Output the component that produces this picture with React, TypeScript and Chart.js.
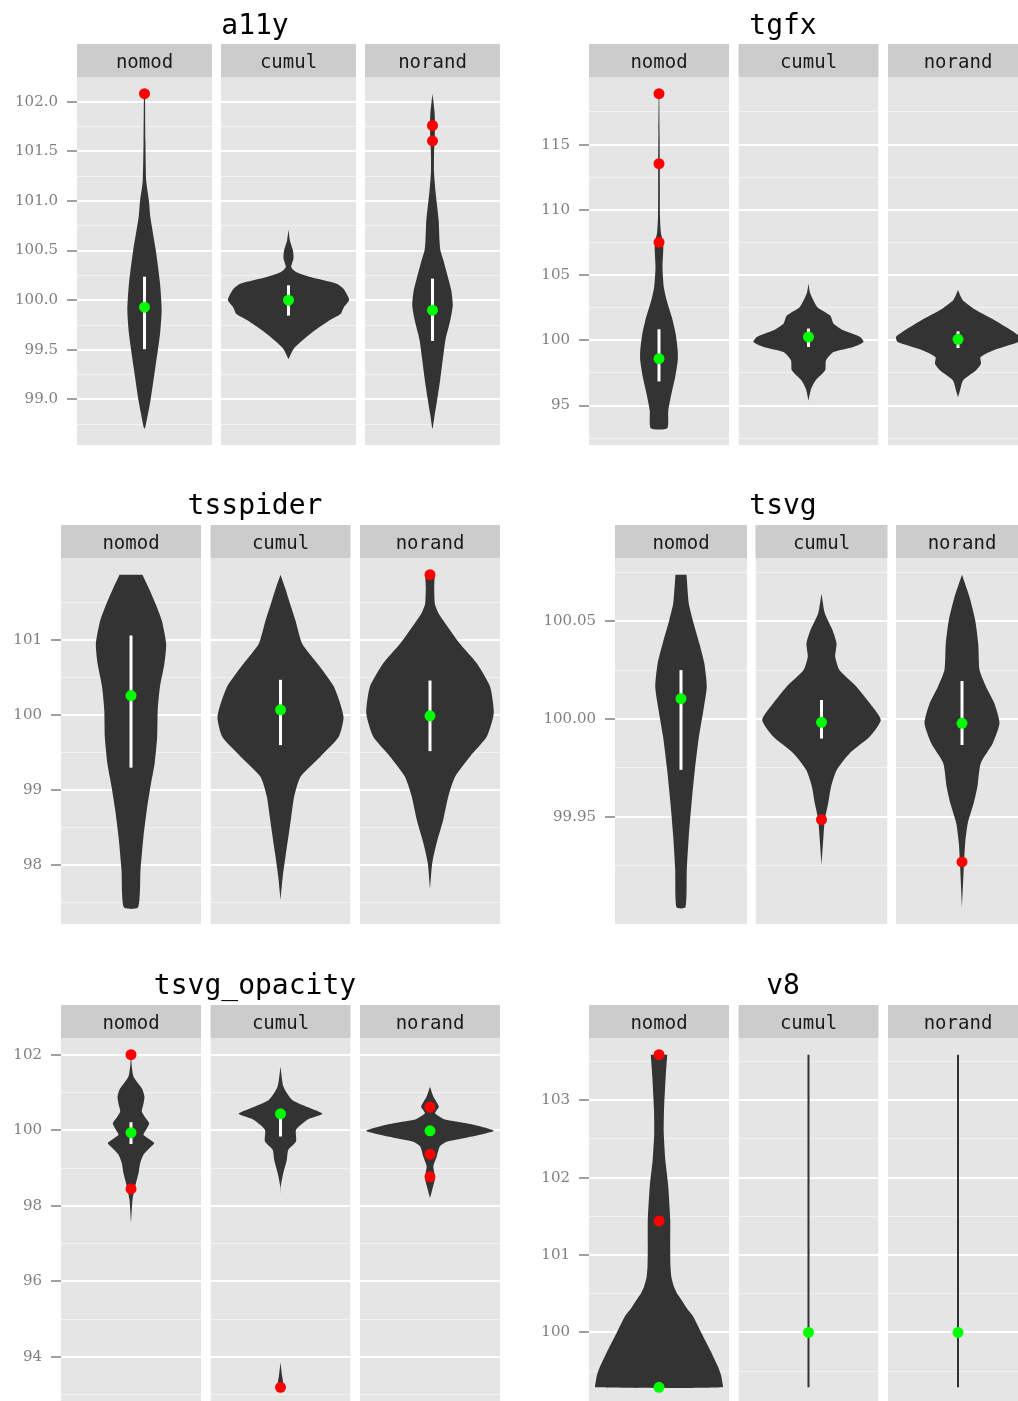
import React, { useEffect, useRef } from 'react';
import { Chart, registerables } from 'chart.js';

Chart.register(...registerables);

// ---------------- data ----------------
const facetNames = ['nomod', 'cumul', 'norand'];

// a11y
const a11yTicks = [99.0, 99.5, 100.0, 100.5, 101.0, 101.5, 102.0];
const a11yNomodViolin = [[102.08, 0.004], [101.6, 0.007], [101.2, 0.013], [101.0, 0.033], [100.84, 0.043], [100.5, 0.084], [100.17, 0.115], [99.9, 0.127], [99.66, 0.115], [99.32, 0.08], [98.98, 0.043], [98.71, 0.004]];
const a11yCumulViolin = [[100.71, 0], [100.6, 0.011], [100.5, 0.033], [100.42, 0.037], [100.334, 0.02], [100.284, 0.055], [100.233, 0.163], [100.166, 0.357], [100.115, 0.407], [100.047, 0.437], [100.0, 0.449], [99.93, 0.41], [99.86, 0.385], [99.79, 0.296], [99.66, 0.16], [99.52, 0.044], [99.405, 0]];
const a11yNorandViolin = [[102.08, 0], [102.0, 0.007], [101.9, 0.015], [101.75, 0.019], [101.5, 0.012], [101.3, 0.011], [101.1, 0.022], [101.0, 0.03], [100.8, 0.046], [100.6, 0.052], [100.5, 0.059], [100.4, 0.081], [100.25, 0.111], [100.1, 0.139], [99.95, 0.15], [99.8, 0.132], [99.6, 0.096], [99.4, 0.076], [99.2, 0.057], [99.0, 0.035], [98.85, 0.017], [98.71, 0.002]];
const a11yCenters = [99.93, 100.0, 99.9];
const a11yIntervals = [[99.507, 100.237], [99.845, 100.15], [99.59, 100.217]];
const a11yOutliers = [[102.08], [], [101.76, 101.605]];

// tgfx
const tgfxTicks = [95, 100, 105, 110, 115];
const tgfxNomodViolin = [[118.9, 0.002], [116, 0.004], [113.5, 0.006], [111.8, 0.006], [109.5, 0.007], [108.2, 0.014], [107.5, 0.03], [106.8, 0.03], [105.6, 0.025], [104.1, 0.034], [103.1, 0.054], [101.8, 0.091], [100.5, 0.119], [99.2, 0.134], [98.46, 0.134], [97.2, 0.116], [95.9, 0.089], [94.6, 0.066], [93.26, 0.059]];
const tgfxCumulViolin = [[104.36, 0], [103.6, 0.012], [102.56, 0.062], [101.9, 0.155], [101.28, 0.179], [100.77, 0.25], [100.26, 0.369], [99.87, 0.393], [99.49, 0.321], [99.1, 0.179], [98.46, 0.125], [97.7, 0.119], [96.92, 0.05], [96.28, 0.019], [95.38, 0]];
const tgfxNorandViolin = [[103.85, 0], [103.08, 0.034], [102.3, 0.131], [101.54, 0.262], [100.77, 0.379], [100.26, 0.443], [99.87, 0.43], [99.23, 0.25], [98.72, 0.161], [98.2, 0.164], [97.7, 0.129], [96.92, 0.036], [96.15, 0.014], [95.64, 0]];
const tgfxCenters = [98.59, 100.26, 100.08];
const tgfxIntervals = [[96.85, 100.85], [99.49, 100.9], [99.41, 100.69]];
const tgfxOutliers = [[118.9, 113.54, 107.51], [], []];

// tsspider
const tsspiderTicks = [98, 99, 100, 101];
const tsspiderNomodViolin = [[101.87, 0.082], [101.7, 0.125], [101.48, 0.176], [101.26, 0.22], [100.95, 0.251], [100.69, 0.239], [100.38, 0.207], [100.07, 0.191], [99.71, 0.187], [99.36, 0.169], [99.05, 0.139], [98.74, 0.113], [98.38, 0.089], [97.94, 0.068], [97.44, 0.051]];
const tsspiderCumulViolin = [[101.87, 0], [101.7, 0.032], [101.48, 0.069], [101.26, 0.107], [100.95, 0.155], [100.69, 0.262], [100.38, 0.381], [99.98, 0.45], [99.71, 0.416], [99.45, 0.286], [99.18, 0.143], [98.92, 0.098], [98.61, 0.074], [98.16, 0.039], [97.85, 0.016], [97.54, 0]];
const tsspiderNorandViolin = [[101.87, 0.034], [101.7, 0.03], [101.48, 0.035], [101.36, 0.06], [101.26, 0.095], [100.95, 0.214], [100.69, 0.334], [100.38, 0.429], [100.02, 0.455], [99.71, 0.405], [99.45, 0.286], [99.18, 0.179], [98.92, 0.131], [98.61, 0.095], [98.3, 0.048], [98.03, 0.016], [97.68, 0]];
const tsspiderCenters = [100.26, 100.07, 99.99];
const tsspiderIntervals = [[99.3, 101.06], [99.6, 100.47], [99.52, 100.46]];
const tsspiderOutliers = [[], [], [101.87]];

// tsvg
const tsvgTicks = [99.95, 100.0, 100.05];
const tsvgNomodViolin = [[100.0738, 0.042], [100.059, 0.059], [100.0505, 0.089], [100.0386, 0.139], [100.0284, 0.177], [100.0165, 0.195], [100.0046, 0.17], [99.991, 0.136], [99.974, 0.105], [99.957, 0.08], [99.94, 0.059], [99.923, 0.044], [99.9037, 0.034]];
const tsvgCumulViolin = [[100.064, 0], [100.054, 0.025], [100.045, 0.086], [100.0386, 0.114], [100.0318, 0.104], [100.025, 0.136], [100.0165, 0.265], [100.008, 0.366], [99.9995, 0.449], [99.991, 0.366], [99.9825, 0.214], [99.974, 0.116], [99.9655, 0.073], [99.957, 0.051], [99.9485, 0.025], [99.94, 0.015], [99.9255, 0]];
const tsvgNorandViolin = [[100.0738, 0], [100.0624, 0.057], [100.0505, 0.1], [100.0386, 0.123], [100.025, 0.133], [100.0165, 0.182], [100.008, 0.245], [99.9978, 0.284], [99.9876, 0.233], [99.9774, 0.142], [99.9655, 0.117], [99.957, 0.089], [99.9468, 0.044], [99.9366, 0.024], [99.923, 0.013], [99.9037, 0]];
const tsvgCenters = [100.0104, 99.9983, 99.9978];
const tsvgIntervals = [[99.974, 100.025], [99.99, 100.0097], [99.9867, 100.0194]];
const tsvgOutliers = [[], [99.9485], [99.9269]];

// tsvg_opacity
const tsvgOpacityTicks = [94, 96, 98, 100, 102];
const tsvgOpacityNomodViolin = [[102.01, 0], [101.69, 0.006], [101.43, 0.018], [101.25, 0.05], [101.1, 0.08], [100.9, 0.096], [100.72, 0.09], [100.5, 0.077], [100.35, 0.1], [100.19, 0.13], [100.03, 0.11], [99.885, 0.089], [99.77, 0.13], [99.665, 0.166], [99.52, 0.13], [99.357, 0.089], [99.137, 0.066], [98.87, 0.054], [98.52, 0.03], [98.17, 0.011], [97.55, 0]];
const tsvgOpacityCumulViolin = [[101.69, 0], [101.16, 0.021], [100.81, 0.084], [100.59, 0.214], [100.44, 0.3], [100.28, 0.19], [100.02, 0.111], [99.71, 0.111], [99.49, 0.056], [99.22, 0.045], [98.87, 0.02], [98.52, 0.002], [98.3, 0], [93.85, 0], [93.5, 0.011], [93.19, 0.021]];
const tsvgOpacityNorandViolin = [[101.16, 0], [100.9, 0.024], [100.63, 0.063], [100.46, 0.036], [100.3, 0.1], [100.2, 0.25], [100.11, 0.357], [99.99, 0.455], [99.885, 0.357], [99.8, 0.25], [99.7, 0.12], [99.58, 0.071], [99.31, 0.048], [99.05, 0.024], [98.74, 0.036], [98.43, 0.016], [98.21, 0]];
const tsvgOpacityCenters = [99.94, 100.44, 99.99];
const tsvgOpacityIntervals = [[99.64, 100.22], [99.84, 100.45], [99.95, 100.03]];
const tsvgOpacityOutliers = [[102.01, 98.45], [93.19], [100.62, 99.37, 98.77]];

// v8
const v8Ticks = [100, 101, 102, 103];
const v8NomodViolin = [[103.59, 0.059], [103.31, 0.048], [102.88, 0.036], [102.58, 0.034], [102.23, 0.045], [101.89, 0.066], [101.46, 0.08], [101.11, 0.08], [100.85, 0.082], [100.7, 0.09], [100.59, 0.107], [100.5, 0.13], [100.42, 0.161], [100.31, 0.2], [100.21, 0.243], [99.99, 0.304], [99.78, 0.363], [99.56, 0.421], [99.45, 0.443], [99.36, 0.452], [99.29, 0.454]];
const v8CumulViolin = [[103.59, 0], [99.29, 0]];
const v8NorandViolin = [[103.59, 0], [99.29, 0]];
const v8Centers = [99.29, 100.0, 100.0];
const v8Intervals = [null, null, null];
const v8Outliers = [[103.59, 101.44], [], []];

// ---------------- layout ----------------
type Layout = { left: number; rowTop: number; facetLeft: number; facetW: number; gap: number; plotTop: number; plotBottom: number; titleX: number };

const panels = [
  { title: 'a11y', ticks: a11yTicks, decimals: 1, violins: [a11yNomodViolin, a11yCumulViolin, a11yNorandViolin], centers: a11yCenters, intervals: a11yIntervals, outliers: a11yOutliers,
    layout: { left: 0, rowTop: 0, facetLeft: 77, facetW: 135, gap: 9, plotTop: 77, plotBottom: 445, titleX: 255 } },
  { title: 'tgfx', ticks: tgfxTicks, decimals: 0, violins: [tgfxNomodViolin, tgfxCumulViolin, tgfxNorandViolin], centers: tgfxCenters, intervals: tgfxIntervals, outliers: tgfxOutliers,
    layout: { left: 510, rowTop: 0, facetLeft: 589, facetW: 140, gap: 9.5, plotTop: 77, plotBottom: 445, titleX: 783 } },
  { title: 'tsspider', ticks: tsspiderTicks, decimals: 0, violins: [tsspiderNomodViolin, tsspiderCumulViolin, tsspiderNorandViolin], centers: tsspiderCenters, intervals: tsspiderIntervals, outliers: tsspiderOutliers,
    layout: { left: 0, rowTop: 480, facetLeft: 61, facetW: 140, gap: 9.5, plotTop: 558, plotBottom: 924, titleX: 255 } },
  { title: 'tsvg', ticks: tsvgTicks, decimals: 2, violins: [tsvgNomodViolin, tsvgCumulViolin, tsvgNorandViolin], centers: tsvgCenters, intervals: tsvgIntervals, outliers: tsvgOutliers,
    layout: { left: 510, rowTop: 480, facetLeft: 615, facetW: 132, gap: 8.5, plotTop: 558, plotBottom: 924, titleX: 783 } },
  { title: 'tsvg_opacity', ticks: tsvgOpacityTicks, decimals: 0, violins: [tsvgOpacityNomodViolin, tsvgOpacityCumulViolin, tsvgOpacityNorandViolin], centers: tsvgOpacityCenters, intervals: tsvgOpacityIntervals, outliers: tsvgOpacityOutliers,
    layout: { left: 0, rowTop: 960, facetLeft: 61, facetW: 140, gap: 9.5, plotTop: 1038, plotBottom: 1404, titleX: 255 } },
  { title: 'v8', ticks: v8Ticks, decimals: 0, violins: [v8NomodViolin, v8CumulViolin, v8NorandViolin], centers: v8Centers, intervals: v8Intervals, outliers: v8Outliers,
    layout: { left: 510, rowTop: 960, facetLeft: 589, facetW: 140, gap: 9.5, plotTop: 1038, plotBottom: 1404, titleX: 783 } },
];

const PAD_BOTTOM = 30;
const STRIP_H = 33;

function canvasSize(L: Layout) {
  const right = L.facetLeft + 3 * L.facetW + 2 * L.gap;
  return { w: Math.round(right - L.left), h: Math.round(L.plotBottom - L.rowTop) + PAD_BOTTOM };
}

// split a profile into separate blobs where the density is zero over a stretch
function splitProfile(prof: number[][]) {
  const parts: number[][][] = [];
  let cur: number[][] = [];
  for (let i = 0; i < prof.length; i++) {
    cur.push(prof[i]);
    if (i < prof.length - 1 && prof[i][1] === 0 && prof[i + 1][1] === 0 && cur.length > 1) {
      parts.push(cur);
      cur = [];
    }
  }
  if (cur.length > 1) parts.push(cur);
  return parts;
}

function makeChart(canvas: HTMLCanvasElement, p: any) {
  const L: Layout = p.layout;
  const g = L.gap / L.facetW;
  const xPos = [0, 1 + g, 2 * (1 + g)];

  // y range: data range expanded by 5% (ggplot default)
  const all: number[] = [];
  p.violins.forEach((v: number[][]) => v.forEach((q) => all.push(q[0])));
  p.outliers.forEach((o: number[]) => o.forEach((q) => all.push(q)));
  p.centers.forEach((c: number) => all.push(c));
  const lo = Math.min(...all);
  const hi = Math.max(...all);
  const ex = (hi - lo) * 0.05;
  const yMin = lo - ex;
  const yMax = hi + ex;

  const ticks: number[] = p.ticks;
  const step = ticks[1] - ticks[0];
  const minor: number[] = [];
  for (let i = 0; i < ticks.length - 1; i++) minor.push((ticks[i] + ticks[i + 1]) / 2);
  if (ticks[0] - step / 2 > yMin) minor.unshift(ticks[0] - step / 2);
  if (ticks[ticks.length - 1] + step / 2 < yMax) minor.push(ticks[ticks.length - 1] + step / 2);
  const allTicks = [...ticks, ...minor].sort((a, b) => a - b);
  const isMajor = (v: number) => ticks.some((t) => Math.abs(t - v) < step * 1e-3);

  const datasets: any[] = [];
  p.violins.forEach((prof: number[][], i: number) => {
    const c = xPos[i];
    const flat = prof.every((q) => q[1] === 0);
    if (flat) {
      datasets.push({
        data: prof.map((q) => ({ x: c, y: q[0] })),
        showLine: true, fill: false, borderColor: '#333333', borderWidth: 2,
        pointRadius: 0, order: 4,
      });
    } else {
      splitProfile(prof).forEach((part) => {
        const right = part.map((q) => ({ x: c + q[1], y: q[0] }));
        const left = part.slice().reverse().map((q) => ({ x: c - q[1], y: q[0] }));
        datasets.push({
          data: [...right, ...left],
          showLine: true, fill: 'shape', backgroundColor: '#333333',
          borderColor: 'rgba(0,0,0,0)', borderWidth: 1, tension: 0.2,
          pointRadius: 0, order: 4,
        });
      });
    }
    const iv = p.intervals[i];
    if (iv) {
      datasets.push({
        data: [{ x: c, y: iv[0] }, { x: c, y: iv[1] }],
        showLine: true, fill: false, borderColor: '#ffffff', borderWidth: 3,
        borderCapStyle: 'butt', pointRadius: 0, order: 3,
      });
    }
    if (p.outliers[i].length) {
      datasets.push({
        data: p.outliers[i].map((v: number) => ({ x: c, y: v })),
        showLine: false, pointRadius: 5.5, pointBackgroundColor: '#ff0000',
        backgroundColor: '#ff0000', pointBorderWidth: 0, borderWidth: 0, order: 2,
      });
    }
    datasets.push({
      data: [{ x: c, y: p.centers[i] }],
      showLine: false, pointRadius: 5.5, pointBackgroundColor: '#00ff00',
      backgroundColor: '#00ff00', pointBorderWidth: 0, borderWidth: 0, order: 1,
    });
  });

  const decor = {
    id: 'panelDecor',
    beforeDraw(chart: any) {
      const { ctx, chartArea } = chart;
      const xs = chart.scales.x;
      ctx.save();
      const stripTop = chartArea.top - STRIP_H;
      xPos.forEach((c, i) => {
        const l = xs.getPixelForValue(c - 0.5);
        const r = xs.getPixelForValue(c + 0.5);
        ctx.fillStyle = '#E5E5E5';
        ctx.fillRect(l, chartArea.top, r - l, chartArea.bottom - chartArea.top);
        ctx.fillStyle = '#CCCCCC';
        ctx.fillRect(l, stripTop, r - l, STRIP_H);
        ctx.fillStyle = '#1a1a1a';
        ctx.font = '19px "DejaVu Sans Mono"';
        ctx.textAlign = 'center';
        ctx.textBaseline = 'alphabetic';
        ctx.fillText(facetNames[i], (l + r) / 2, stripTop + 24);
      });
      ctx.fillStyle = '#000000';
      ctx.font = '28px "DejaVu Sans Mono"';
      ctx.textAlign = 'center';
      ctx.textBaseline = 'alphabetic';
      ctx.fillText(p.title, L.titleX - L.left, 34);
      ctx.restore();
    },
    beforeDatasetsDraw(chart: any) {
      const { ctx, chartArea } = chart;
      const xs = chart.scales.x;
      ctx.save();
      ctx.fillStyle = '#ffffff';
      for (let i = 0; i < 2; i++) {
        const l = xs.getPixelForValue(xPos[i] + 0.5);
        const r = xs.getPixelForValue(xPos[i + 1] - 0.5);
        ctx.fillRect(l, chartArea.top - 1, r - l, chartArea.bottom - chartArea.top + 2);
      }
      ctx.restore();
    },
  };

  return new Chart(canvas, {
    type: 'scatter',
    data: { datasets },
    plugins: [decor],
    options: {
      responsive: false,
      animation: false,
      devicePixelRatio: 1,
      events: [],
      layout: { autoPadding: false, padding: { top: L.plotTop - L.rowTop, bottom: PAD_BOTTOM, left: 0, right: 0 } },
      plugins: { legend: { display: false }, tooltip: { enabled: false }, title: { display: false } },
      scales: {
        x: { type: 'linear', min: -0.5, max: 2 * (1 + g) + 0.5, display: false },
        y: {
          type: 'linear', min: yMin, max: yMax,
          afterFit: (s: any) => { s.width = L.facetLeft - L.left; },
          afterBuildTicks: (s: any) => { s.ticks = allTicks.map((v) => ({ value: v })); },
          ticks: {
            autoSkip: false,
            padding: 9,
            color: '#808080',
            font: { family: '"DejaVu Serif"', size: 15 },
            callback: (v: any) => (isMajor(Number(v)) ? Number(v).toFixed(p.decimals) : ''),
          },
          grid: {
            color: (ctx: any) => (ctx.tick && isMajor(ctx.tick.value) ? '#ffffff' : '#F2F2F2'),
            lineWidth: (ctx: any) => (ctx.tick && isMajor(ctx.tick.value) ? 2 : 1),
            tickColor: (ctx: any) => (ctx.tick && isMajor(ctx.tick.value) ? '#7f7f7f' : 'rgba(0,0,0,0)'),
            tickLength: 10,
            tickWidth: 1.5,
            drawTicks: true,
          },
          border: { display: false },
        },
      },
    } as any,
  });
}

export default function App() {
  const refs = useRef<(HTMLCanvasElement | null)[]>([]);
  useEffect(() => {
    const charts = panels.map((p, i) => makeChart(refs.current[i] as HTMLCanvasElement, p));
    return () => charts.forEach((c) => c.destroy());
  }, []);
  return (
    <div style={{ position: 'absolute', left: 0, top: 0, width: 1018, height: 1401, overflow: 'hidden', background: '#ffffff' }}>
      {panels.map((p, i) => {
        const L = p.layout;
        const { w, h } = canvasSize(L);
        return (
          <canvas
            key={p.title}
            ref={(el) => { refs.current[i] = el; }}
            width={w}
            height={h}
            style={{ position: 'absolute', left: L.left, top: L.rowTop, width: w, height: h, display: 'block' }}
          />
        );
      })}
    </div>
  );
}
